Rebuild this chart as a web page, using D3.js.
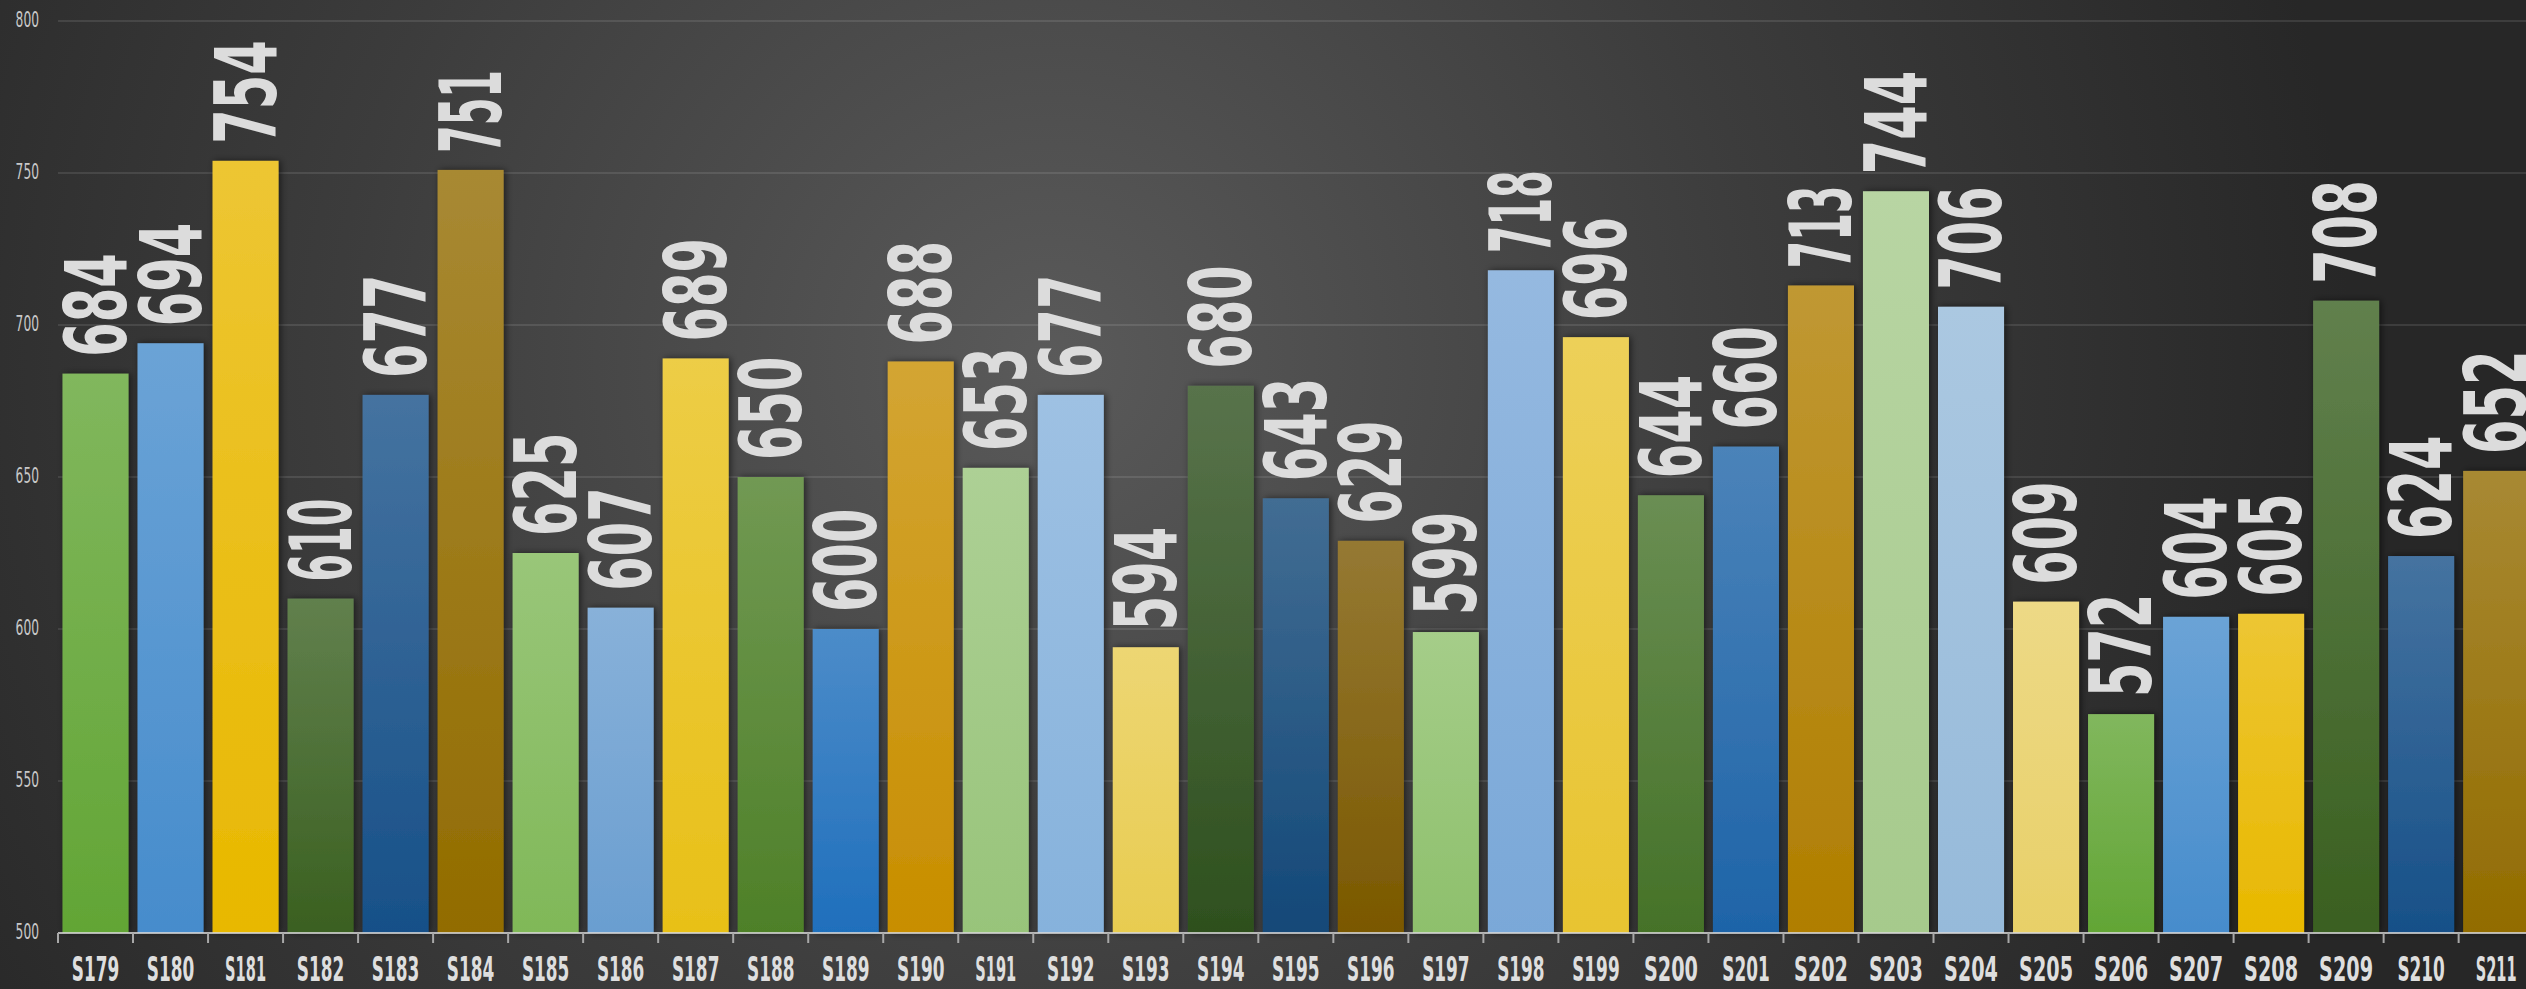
<!DOCTYPE html>
<html>
<head>
<meta charset="utf-8">
<script src="https://cdn.jsdelivr.net/npm/d3@7/dist/d3.min.js"></script>
<style>
  html, body { margin: 0; padding: 0; background: #2a2a2a; overflow: hidden; }
  svg { display: block; }
</style>
</head>
<body>
<script>
// ---- data ----
const categories = ["S179","S180","S181","S182","S183","S184","S185","S186","S187","S188","S189",
  "S190","S191","S192","S193","S194","S195","S196","S197","S198","S199","S200","S201","S202",
  "S203","S204","S205","S206","S207","S208","S209","S210","S211"];
const values = [684,694,754,610,677,751,625,607,689,650,600,688,653,677,594,680,643,629,599,
  718,696,644,660,713,744,706,609,572,604,605,708,624,652];
const yTicks = [500,550,600,650,700,750,800];
const barColors = ["#62a535","#468ccc","#e8b800","#3a6020","#175088","#926c00",
  "#80b858","#6a9ed0","#e8c018","#4e8028","#1f6fbc","#c88e00",
  "#98c47a","#86b2dc","#e8cc50","#2e501e","#134878","#7a5800",
  "#8ec06c","#7aa8d8","#e8c430","#457228","#1e64a8","#b07e00",
  "#a6ca8c","#96bada","#e8d068","#62a535","#468ccc","#e8b800",
  "#3a6020","#175088","#926c00"];

// ---- layout ----
const W = 2526, H = 989;
const left = 58, step = 75.02;
const right = left + step * categories.length;
const y0 = 933, y1 = 21;

const svg = d3.select("body").append("svg").attr("width", W).attr("height", H);
const defs = svg.append("defs");

const bg = defs.append("radialGradient").attr("id", "bg")
  .attr("gradientUnits", "userSpaceOnUse")
  .attr("cx", 1050).attr("cy", 360).attr("r", 1300);
bg.append("stop").attr("offset", 0).attr("stop-color", "#5a5a5a");
bg.append("stop").attr("offset", 0.55).attr("stop-color", "#3c3c3c");
bg.append("stop").attr("offset", 1).attr("stop-color", "#272727");

const f = defs.append("filter").attr("id", "shadow")
  .attr("x", "-30%").attr("y", "-10%").attr("width", "160%").attr("height", "120%");
f.append("feDropShadow").attr("dx", 2).attr("dy", 0).attr("stdDeviation", 3.5)
  .attr("flood-color", "#000").attr("flood-opacity", 0.55);

categories.forEach((c, i) => {
  const base = barColors[i];
  const g = defs.append("linearGradient").attr("id", "g" + i)
    .attr("x1", 0).attr("y1", 0).attr("x2", 0).attr("y2", 1);
  g.append("stop").attr("offset", 0).attr("stop-color", d3.interpolateRgb(base, "#ffffff")(0.2));
  g.append("stop").attr("offset", 1).attr("stop-color", base);
});

svg.append("rect").attr("width", W).attr("height", H).attr("fill", "url(#bg)");

// ---- scales ----
const x = d3.scaleBand().domain(categories).range([left, right])
  .paddingInner(0.12).paddingOuter(0.06);
const xOuter = d3.scaleBand().domain(categories).range([left, right]).padding(0);
const y = d3.scaleLinear().domain([500, 800]).range([y0, y1]);

// target width for the condensed display font (narrow "1")
function fitLen(str, wide, narrow) {
  let s = 0;
  for (const ch of str) s += (ch === "1") ? narrow : wide;
  return s;
}
// squeeze a text horizontally (in its own frame) to a target length
function squeeze(sel, targetFn, baseTransformFn) {
  sel.each(function(d, i) {
    const nat = this.getComputedTextLength() || 1;
    const s = targetFn(d, i) / nat;
    d3.select(this).attr("transform", `${baseTransformFn(d, i)} scale(${s},1)`);
  });
}
const FONT = "'Liberation Sans Narrow','DejaVu Sans Condensed','Liberation Sans',sans-serif";

// ---- grid ----
svg.append("g").selectAll("line").data(yTicks.filter(t => t > 500)).join("line")
  .attr("x1", left).attr("x2", W)
  .attr("y1", d => y(d)).attr("y2", d => y(d))
  .attr("stroke", "rgba(255,255,255,0.1)").attr("stroke-width", 2);

// y labels
svg.append("g").selectAll("text").data(yTicks).join("text")
  .attr("text-anchor", "end").attr("dominant-baseline", "middle")
  .attr("font-family", FONT).attr("font-size", 21)
  .attr("fill", "#c8c8c8")
  .text(d => d)
  .call(squeeze, d => fitLen(String(d), 7.8, 4), d => `translate(39,${y(d)})`);

// ---- bars ----
svg.append("g").selectAll("rect").data(values).join("rect")
  .attr("x", (d, i) => x(categories[i]))
  .attr("width", x.bandwidth())
  .attr("y", d => y(d))
  .attr("height", d => y0 - y(d))
  .attr("fill", (d, i) => `url(#g${i})`)
  .attr("filter", "url(#shadow)");

// ---- axis ----
const ax = svg.append("g");
ax.append("line").attr("x1", left).attr("x2", W).attr("y1", y0).attr("y2", y0)
  .attr("stroke", "rgba(215,215,215,0.8)").attr("stroke-width", 2);
ax.selectAll("line.tick").data(categories).join("line").attr("class", "tick")
  .attr("x1", d => xOuter(d)).attr("x2", d => xOuter(d))
  .attr("y1", y0).attr("y2", y0 + 10)
  .attr("stroke", "#a8a8a8").attr("stroke-width", 2);
ax.selectAll("text").data(categories).join("text")
  .attr("text-anchor", "middle")
  .attr("font-family", FONT).attr("font-weight", "bold").attr("font-size", 33)
  .attr("fill", "#dedede")
  .text(d => d)
  .call(squeeze, d => fitLen(d, 13.5, 7),
        d => `translate(${xOuter(d) + xOuter.bandwidth() / 2},981)`);

// ---- value labels ----
svg.append("g").selectAll("text").data(values).join("text")
  .attr("text-anchor", "start")
  .attr("font-family", FONT).attr("font-weight", "bold").attr("font-size", 86)
  .attr("fill", "#dcdcdc")
  .text(d => d)
  .call(squeeze, d => fitLen(String(d), 34.5, 14), (d, i) => {
    const cx = x(categories[i]) + x.bandwidth() / 2 + 30;
    return `translate(${cx},${y(d) - 17}) rotate(-90)`;
  });
</script>
</body>
</html>
